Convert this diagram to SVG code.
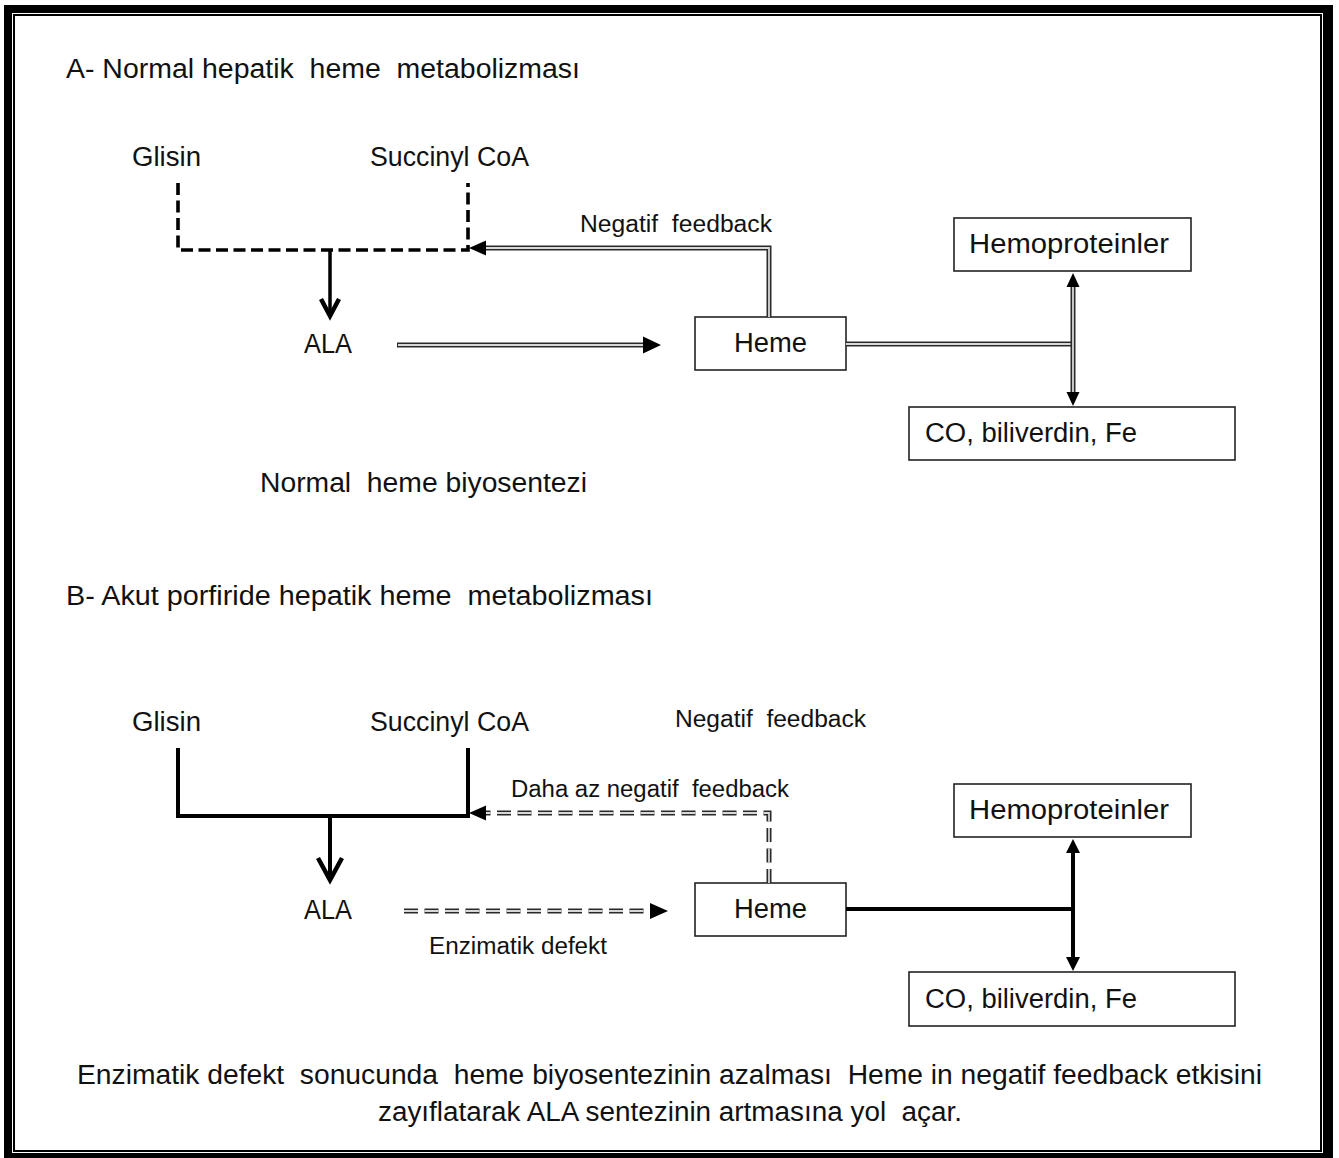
<svg xmlns="http://www.w3.org/2000/svg" width="1339" height="1158" viewBox="0 0 1339 1158">
<style>
text{font-family:"Liberation Sans",Arial,sans-serif;fill:#111;white-space:pre}
.big{font-size:27px}
.lbl{font-size:23px}
.box{fill:#fff;stroke:#222;stroke-width:1.6}
.thick{fill:none;stroke:#000;stroke-width:4;stroke-linejoin:miter}
.dash{fill:none;stroke:#000;stroke-width:3.6;stroke-dasharray:12 5.5}
.dblo{fill:none;stroke:#2a2a2a;stroke-width:5}
.dbli{fill:none;stroke:#d8d8d8;stroke-width:1.8}
.ddo{fill:none;stroke:#2a2a2a;stroke-width:5;stroke-dasharray:14 6.5}
.ddi{fill:none;stroke:#d8d8d8;stroke-width:1.8;stroke-dasharray:14 6.5}
.chev{fill:none;stroke:#000;stroke-width:4.5;stroke-linecap:butt;stroke-linejoin:miter}
.head{fill:#000}
</style>

<g id="frame">
<rect x="4" y="5" width="1329" height="1154" fill="#000"/>
<rect x="12" y="13" width="1311" height="1140" fill="#fff"/>
<rect x="14" y="15" width="1307" height="1136" fill="none" stroke="#000" stroke-width="2"/>
</g>

<g id="titles">
<text class="big" x="66" y="78" textLength="514" lengthAdjust="spacingAndGlyphs" xml:space="preserve">A- Normal hepatik  heme  metabolizması</text>
<text class="big" x="260" y="492" textLength="327" lengthAdjust="spacingAndGlyphs" xml:space="preserve">Normal  heme biyosentezi</text>
<text class="big" x="66" y="605" textLength="587" lengthAdjust="spacingAndGlyphs" xml:space="preserve">B- Akut porfiride hepatik heme  metabolizması</text>
<text class="big" x="77" y="1084" textLength="1185" lengthAdjust="spacingAndGlyphs" xml:space="preserve">Enzimatik defekt  sonucunda  heme biyosentezinin azalması  Heme in negatif feedback etkisini</text>
<text class="big" x="378" y="1121" textLength="584" lengthAdjust="spacingAndGlyphs" xml:space="preserve">zayıflatarak ALA sentezinin artmasına yol  açar.</text>
</g>

<!-- Part A nodes -->
<g id="A-glisin"><text class="big" x="132" y="166" textLength="69" lengthAdjust="spacingAndGlyphs">Glisin</text></g>
<g id="A-succinyl"><text class="big" x="370" y="166" textLength="159" lengthAdjust="spacingAndGlyphs">Succinyl CoA</text></g>
<g id="A-ala"><text class="big" x="304" y="353" textLength="48" lengthAdjust="spacingAndGlyphs">ALA</text></g>
<g id="A-heme"><rect class="box" x="695" y="317" width="151" height="53"/><text class="big" x="734" y="352" textLength="73" lengthAdjust="spacingAndGlyphs">Heme</text></g>
<g id="A-hemoproteinler"><rect class="box" x="954" y="218" width="237" height="53"/><text class="big" x="969" y="253" textLength="200" lengthAdjust="spacingAndGlyphs">Hemoproteinler</text></g>
<g id="A-co"><rect class="box" x="909" y="407" width="326" height="53"/><text class="big" x="925" y="442" textLength="212" lengthAdjust="spacingAndGlyphs">CO, biliverdin, Fe</text></g>

<!-- Part B nodes -->
<g id="B-glisin"><text class="big" x="132" y="731" textLength="69" lengthAdjust="spacingAndGlyphs">Glisin</text></g>
<g id="B-succinyl"><text class="big" x="370" y="731" textLength="159" lengthAdjust="spacingAndGlyphs">Succinyl CoA</text></g>
<g id="B-ala"><text class="big" x="304" y="919" textLength="48" lengthAdjust="spacingAndGlyphs">ALA</text></g>
<g id="B-heme"><rect class="box" x="695" y="883" width="151" height="53"/><text class="big" x="734" y="918" textLength="73" lengthAdjust="spacingAndGlyphs">Heme</text></g>
<g id="B-hemoproteinler"><rect class="box" x="954" y="784" width="237" height="53"/><text class="big" x="969" y="819" textLength="200" lengthAdjust="spacingAndGlyphs">Hemoproteinler</text></g>
<g id="B-co"><rect class="box" x="909" y="972" width="326" height="54"/><text class="big" x="925" y="1008" textLength="212" lengthAdjust="spacingAndGlyphs">CO, biliverdin, Fe</text></g>

<g id="connectors">
<!-- Part A -->
<path class="dash" d="M178,183 V250 H468 V183"/>
<line x1="330" y1="251" x2="330" y2="314" stroke="#000" stroke-width="3.5"/>
<polyline class="chev" points="321,299 330,316 339,299"/>
<!-- ALA -> Heme -->
<line class="dblo" x1="397" y1="345" x2="646" y2="345"/>
<line class="dbli" x1="398" y1="345" x2="646" y2="345"/>
<polygon class="head" points="661,345 643,336.5 643,353.5"/>
<!-- negative feedback -->
<path class="dblo" d="M769,317 V248 H484"/>
<path class="dbli" d="M769,317 V248 H484"/>
<polygon class="head" points="469,248 486,240.5 486,255.5"/>
<text class="lbl" x="580" y="232" textLength="192" lengthAdjust="spacingAndGlyphs" xml:space="preserve">Negatif  feedback</text>
<!-- Heme -> junction -->
<line class="dblo" x1="846" y1="344" x2="1075" y2="344"/>
<line class="dbli" x1="846" y1="344" x2="1074" y2="344"/>
<line class="dblo" x1="1073" y1="284" x2="1073" y2="395"/>
<line class="dbli" x1="1073" y1="284" x2="1073" y2="395"/>
<polygon class="head" points="1073,273 1066.5,287 1079.5,287"/>
<polygon class="head" points="1073,406 1066.5,392 1079.5,392"/>

<!-- Part B -->
<path class="thick" d="M178,748 V816 H468 V748"/>
<line x1="330" y1="816" x2="330" y2="879" stroke="#000" stroke-width="4"/>
<polyline class="chev" points="318,858 330,880 342,858"/>
<!-- ALA -> Heme dashed double -->
<line class="ddo" x1="404" y1="911" x2="652" y2="911"/>
<line class="ddi" x1="404" y1="911" x2="652" y2="911"/>
<polygon class="head" points="668,911 650,903 650,919"/>
<text class="lbl" x="429" y="954" textLength="178" lengthAdjust="spacingAndGlyphs">Enzimatik defekt</text>
<!-- less negative feedback -->
<path class="ddo" d="M769,883 V813 H484"/>
<path class="ddi" d="M769,883 V813 H484"/>
<polygon class="head" points="469,813 486,805.5 486,820.5"/>
<text class="lbl" x="511" y="797" textLength="278" lengthAdjust="spacingAndGlyphs" xml:space="preserve">Daha az negatif  feedback</text>
<text class="lbl" x="675" y="727" textLength="191" lengthAdjust="spacingAndGlyphs" xml:space="preserve">Negatif  feedback</text>
<!-- Heme -> junction -->
<line x1="846" y1="909" x2="1075" y2="909" stroke="#000" stroke-width="4"/>
<line x1="1073" y1="850" x2="1073" y2="960" stroke="#000" stroke-width="4"/>
<polygon class="head" points="1073,839 1066,853 1080,853"/>
<polygon class="head" points="1073,971 1066,957 1080,957"/>
</g>
</svg>
